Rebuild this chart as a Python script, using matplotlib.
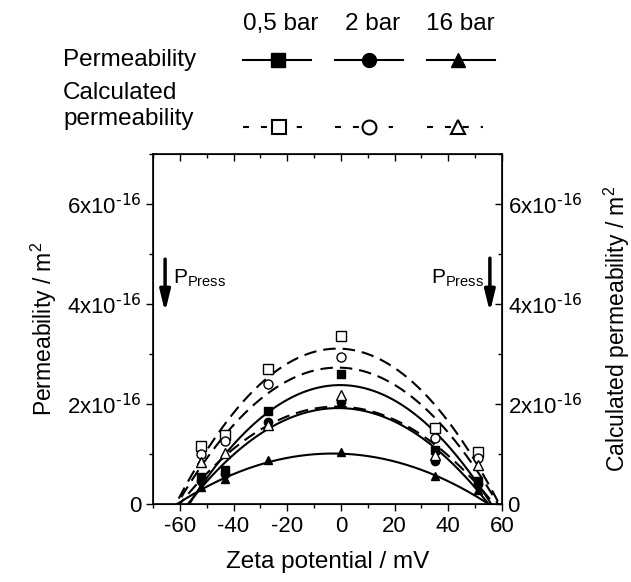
import numpy as np
import matplotlib
matplotlib.use("Agg")
import matplotlib.pyplot as plt
from matplotlib.lines import Line2D
from matplotlib.ticker import MultipleLocator, FuncFormatter

plt.rcParams['font.family'] = ['Liberation Sans', 'DejaVu Sans']
plt.rcParams['lines.scale_dashes'] = False
plt.rcParams['axes.unicode_minus'] = False

# measured data (zeta potential in mV, permeability in m^2)
zeta = [-52, -43, -27, 0, 35, 51]
perm_05 = [0.55e-16, 0.68e-16, 1.87e-16, 2.61e-16, 1.09e-16, 0.46e-16]
perm_2 = [0.47e-16, 0.60e-16, 1.65e-16, 2.05e-16, 0.86e-16, 0.40e-16]
perm_16 = [0.35e-16, 0.51e-16, 0.88e-16, 1.05e-16, 0.56e-16, 0.29e-16]
calc_05 = [1.17e-16, 1.39e-16, 2.71e-16, 3.37e-16, 1.53e-16, 1.05e-16]
calc_2 = [1.01e-16, 1.26e-16, 2.41e-16, 2.95e-16, 1.33e-16, 0.93e-16]
calc_16 = [0.85e-16, 1.03e-16, 1.59e-16, 2.18e-16, 0.98e-16, 0.78e-16]

# parabolic fits: (left zero, right zero, peak value)
fit_perm = [(-56.5, 56.0, 2.38e-16), (-57.0, 55.0, 1.92e-16), (-61.0, 55.0, 1.01e-16)]
fit_calc = [(-61.5, 59.0, 3.11e-16), (-61.0, 58.5, 2.73e-16), (-60.0, 57.0, 1.95e-16)]

pressures = ['0,5 bar', '2 bar', '16 bar']
markers = ['s', 'o', '^']


def parabola(x, x0, x1, peak):
    c = (x0 + x1) / 2
    w = (x1 - x0) / 2
    return peak * (1 - ((x - c) / w) ** 2)


def sci(v, pos):
    if abs(v) < 1e-20:
        return '0'
    return '%dx10$^{\\text{-16}}$' % round(v / 1e-16)


fig = plt.figure(figsize=(6.31, 5.82), dpi=100)
ax = fig.add_axes([0.2425, 0.134, 0.553, 0.601])

xx = np.linspace(-70, 60, 400)
for (x0, x1, pk) in fit_perm:
    ax.plot(xx, parabola(xx, x0, x1, pk), color='k', lw=1.5)
for (x0, x1, pk) in fit_calc:
    ax.plot(xx, parabola(xx, x0, x1, pk), color='k', lw=1.5, dashes=(9, 5))

for vals, m in zip([perm_05, perm_2, perm_16], markers):
    ax.plot(zeta, vals, ls='none', marker=m, ms=6, color='k')
for vals, m in zip([calc_05, calc_2, calc_16], markers):
    ax.plot(zeta, vals, ls='none', marker=m, ms=6.5, mfc='white', mec='k', mew=1)

ax.set_xlim(-70, 60)
ax.set_ylim(0, 7e-16)
ax.xaxis.set_major_locator(MultipleLocator(20))
ax.xaxis.set_minor_locator(MultipleLocator(10))
ax.yaxis.set_major_locator(MultipleLocator(2e-16))
ax.yaxis.set_minor_locator(MultipleLocator(1e-16))
ax.yaxis.set_major_formatter(FuncFormatter(sci))
ax.tick_params(axis='both', which='major', labelsize=16, length=5, width=1)
ax.tick_params(axis='both', which='minor', length=3, width=1)
ax.tick_params(axis='x', which='both', direction='out', top=True)
ax.tick_params(axis='y', direction='out', pad=3)
for sp in ax.spines.values():
    sp.set_linewidth(1.2)

# top ticks point inward
for t in ax.xaxis.get_major_ticks() + ax.xaxis.get_minor_ticks():
    t.tick2line.set_marker(matplotlib.markers.TICKDOWN)

ax2 = ax.twinx()
ax2.set_ylim(ax.get_ylim())
ax2.yaxis.set_major_locator(MultipleLocator(2e-16))
ax2.yaxis.set_minor_locator(MultipleLocator(1e-16))
ax2.yaxis.set_major_formatter(FuncFormatter(sci))
ax2.tick_params(axis='y', which='major', direction='in', labelsize=16, length=5, width=1, pad=4)
ax2.tick_params(axis='y', which='minor', direction='in', length=3, width=1)

ax.set_xlabel('Zeta potential / mV', fontsize=17.5, labelpad=10)
ax.set_ylabel('Permeability / m$^{\\mathregular{2}}$', fontsize=16.5, labelpad=6)
ax2.set_ylabel('Calculated permeability / m$^{\\mathregular{2}}$', fontsize=16.5, labelpad=14)

# pressing direction arrows
arrow = dict(arrowstyle='-|>,head_width=0.22,head_length=0.9', lw=2.5, color='k',
             mutation_scale=14, shrinkA=0, shrinkB=0)
ax.annotate('', xy=(-65.5, 3.84e-16), xytext=(-65.5, 4.9e-16), arrowprops=arrow)
ax.annotate('', xy=(55.5, 3.84e-16), xytext=(55.5, 4.92e-16), arrowprops=arrow)
press = 'P$_{\\mathregular{Press}}$'
ax.text(-62.6, 4.52e-16, press, fontsize=15, ha='left', va='center')
ax.text(53.3, 4.52e-16, press, fontsize=15, ha='right', va='center')

# legend block at the top, positioned in pixels
W, H = 631.0, 582.0


def fx(px):
    return px / W


def fy(py):
    return 1 - py / H


for name, cx in zip(pressures, [281, 373, 460]):
    fig.text(fx(cx), fy(24), name, fontsize=17.5, ha='center', va='center')
fig.text(fx(63), fy(60), 'Permeability', fontsize=17.5, ha='left', va='center')
fig.text(fx(63), fy(106), 'Calculated\npermeability', fontsize=17.5, ha='left',
         va='center', linespacing=1.25)

for m, (a, b, c) in zip(markers, [(243, 311, 278), (335, 403, 369), (427, 495, 458)]):
    fig.add_artist(Line2D([fx(a), fx(b)], [fy(60), fy(60)], color='k', lw=1.5,
                          transform=fig.transFigure))
    fig.add_artist(Line2D([fx(c)], [fy(60)], marker=m, ms=10, color='k',
                          transform=fig.transFigure))
for m, (a, b, c) in zip(markers, [(243, 302, 279), (335, 393, 369), (427, 483, 458)]):
    fig.add_artist(Line2D([fx(a), fx(b)], [fy(127), fy(127)], color='k', lw=1.5,
                          dashes=(4.3, 8.6), transform=fig.transFigure))
    fig.add_artist(Line2D([fx(c)], [fy(127)], marker=m, ms=10, mfc='white', mec='k',
                          mew=1.5, transform=fig.transFigure))

fig.savefig('out.png', dpi=100)
